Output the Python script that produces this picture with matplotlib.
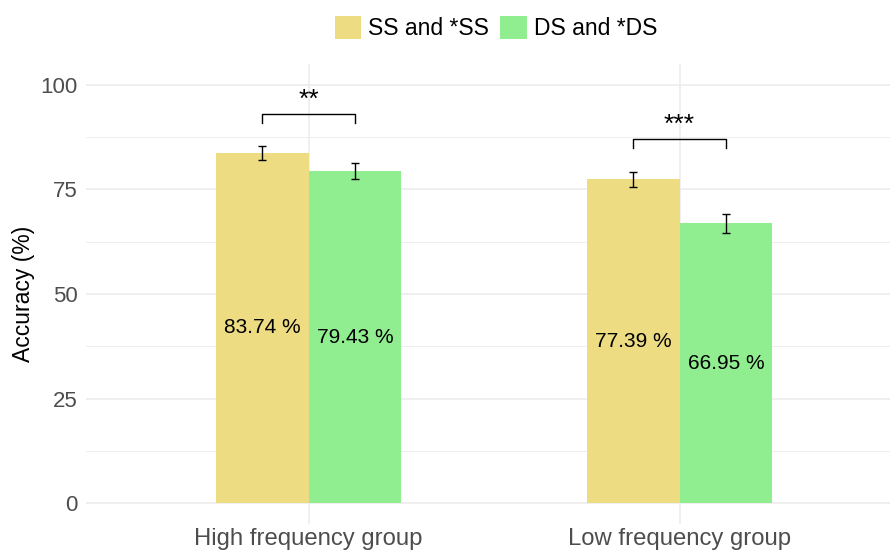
import matplotlib
matplotlib.use('Agg')
import matplotlib.pyplot as plt
from matplotlib.patches import Patch
import numpy as np

plt.rcParams['font.family'] = ['Liberation Sans', 'DejaVu Sans']

groups = ['High frequency group', 'Low frequency group']
series = ['SS and *SS', 'DS and *DS']
colors = ['#EEDC82', '#90EE90']
acc_ss = [83.74, 77.39]
acc_ds = [79.43, 66.95]
err_ss = [1.7, 1.9]
err_ds = [1.9, 2.3]
sig_labels = ['**', '***']
sig_heights = [93.0, 87.0]

fig = plt.figure(figsize=(8.9, 5.54), dpi=100)
ax = fig.add_axes([86 / 890, 1 - 524 / 554, 804 / 890, 460 / 554])

x = np.arange(1, len(groups) + 1)
w = 0.25
grid_c = '#EBEBEB'

# background grid, ggplot minimal style
for yv in [0, 25, 50, 75, 100]:
    ax.axhline(yv, color=grid_c, lw=1.1, zorder=0)
for yv in [12.5, 37.5, 62.5, 87.5]:
    ax.axhline(yv, color=grid_c, lw=0.6, zorder=0)
for xv in x:
    ax.axvline(xv, color=grid_c, lw=1.1, zorder=0)

for vals, errs, off, c in [(acc_ss, err_ss, -w / 2, colors[0]), (acc_ds, err_ds, w / 2, colors[1])]:
    ax.bar(x + off, vals, w, color=c, zorder=2)
    ax.errorbar(x + off, vals, yerr=errs, fmt='none', ecolor='black',
                elinewidth=1.0, capsize=3.2, capthick=1.0, zorder=3)
    for xi, v in zip(x + off, vals):
        ax.text(xi, v / 2, f'{v:.2f} %', ha='center', va='center', fontsize=15, color='black', zorder=4)

# significance brackets
for xi, h, lab in zip(x, sig_heights, sig_labels):
    xl, xr = xi - w / 2, xi + w / 2
    ax.plot([xl, xl, xr, xr], [h - 2, h, h, h - 2], color='black', lw=1.0, zorder=3)
    ax.text(xi, h + 0.6, lab, ha='center', va='bottom', fontsize=19, color='black')

ax.set_xlim(0.4, 0.4 + 804 / 371)
ax.set_ylim(-5, 105)
ax.set_yticks([0, 25, 50, 75, 100])
ax.set_xticks(x)
ax.set_xticklabels(groups)
ax.tick_params(length=0, labelsize=16, labelcolor='#4D4D4D', pad=6)
ax.tick_params(axis='x', pad=3, labelsize=17.2)
ax.set_ylabel('Accuracy (%)', fontsize=16.5, color='black', labelpad=4)
for s in ax.spines.values():
    s.set_visible(False)

handles = [Patch(facecolor=c, edgecolor='none', label=l) for c, l in zip(colors, series)]
fig.legend(handles=handles, loc='center', bbox_to_anchor=(496 / 890, 1 - 28 / 554), ncol=2,
           frameon=False, fontsize=16.5, handlelength=1.15, handleheight=1.2,
           handletextpad=0.3, columnspacing=0.5)

fig.savefig('out.png', dpi=100)
